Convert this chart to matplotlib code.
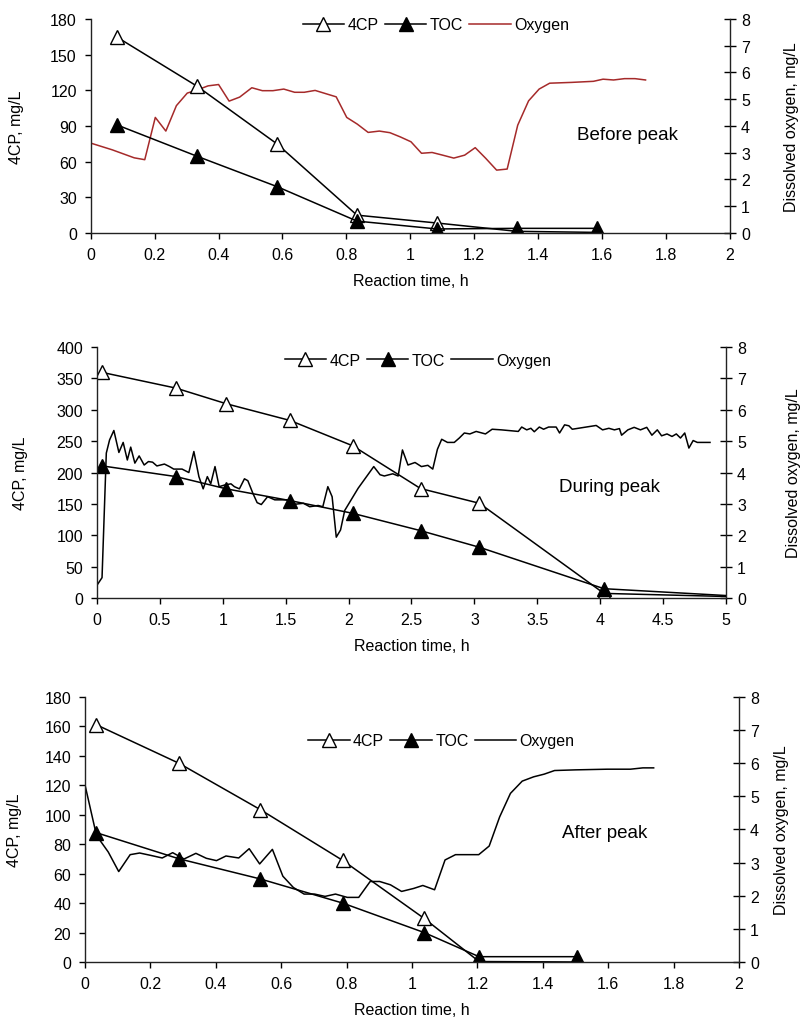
import matplotlib
matplotlib.use("Agg")
import matplotlib.pyplot as plt
from matplotlib.ticker import FormatStrFormatter

plt.rcParams['font.family'] = ['Liberation Sans', 'DejaVu Sans']

# ---- panel 1: before peak
t1 = [0.083, 0.333, 0.583, 0.833, 1.083, 1.333, 1.583]
cp1 = [164.6, 123.4, 74.9, 15.0, 8.4, 1.4, 0.5]
toc1 = [90.8, 64.5, 39.0, 10.0, 3.4, 3.9, 3.9]
t1_o2 = [0, 0.067, 0.136, 0.169, 0.202, 0.235, 0.268, 0.302, 0.334, 0.367, 0.400,
         0.433, 0.466, 0.504, 0.537, 0.570, 0.604, 0.638, 0.668, 0.702, 0.735,
         0.768, 0.801, 0.834, 0.868, 0.903, 0.936, 0.969, 1.002, 1.035, 1.068,
         1.101, 1.136, 1.170, 1.203, 1.236, 1.270, 1.303, 1.336, 1.370, 1.403,
         1.436, 1.505, 1.573, 1.603, 1.636, 1.670, 1.703, 1.736]
o2_1 = [3.36, 3.11, 2.81, 2.74, 4.32, 3.81, 4.76, 5.23, 5.35, 5.50, 5.55,
        4.93, 5.08, 5.43, 5.32, 5.32, 5.38, 5.26, 5.26, 5.33, 5.21,
        5.09, 4.32, 4.07, 3.76, 3.81, 3.75, 3.59, 3.41, 2.98, 3.01,
        2.91, 2.80, 2.91, 3.19, 2.79, 2.35, 2.39, 4.03, 4.94, 5.38,
        5.60, 5.63, 5.67, 5.75, 5.72, 5.77, 5.77, 5.72]

# ---- panel 2: during peak
t2 = [0.04, 0.626, 1.028, 1.534, 2.033, 2.572, 3.04, 4.03, 5.0]
cp2 = [359.6, 334.6, 309.6, 283.0, 242.6, 174.5, 151.0, 7.4, 2.5]
toc2 = [210.6, 193.6, 174.0, 155.3, 135.0, 107.4, 80.9, 14.9, 4.0]
t2_o2 = [0, 0.04, 0.074, 0.10, 0.134, 0.174, 0.208, 0.241, 0.268, 0.301, 0.335,
         0.375, 0.409, 0.442, 0.476, 0.536, 0.576, 0.610, 0.676, 0.730, 0.770,
         0.810, 0.844, 0.877, 0.904, 0.938, 0.971, 1.021, 1.065, 1.092, 1.132,
         1.172, 1.199, 1.239, 1.273, 1.306, 1.356, 1.413, 1.507, 1.574, 1.641,
         1.691, 1.758, 1.795, 1.835, 1.869, 1.902, 1.936, 1.969, 2.076, 2.200,
         2.250, 2.284, 2.351, 2.394, 2.428, 2.472, 2.528, 2.579, 2.630, 2.669,
         2.706, 2.740, 2.786, 2.840, 2.880, 2.920, 2.964, 3.014, 3.088, 3.141,
         3.215, 3.349, 3.376, 3.416, 3.449, 3.476, 3.516, 3.550, 3.590, 3.650,
         3.677, 3.717, 3.751, 3.778, 3.968, 4.019, 4.069, 4.113, 4.153, 4.170,
         4.220, 4.270, 4.320, 4.370, 4.411, 4.454, 4.488, 4.531, 4.571, 4.605,
         4.638, 4.672, 4.705, 4.739, 4.772, 4.873]
o2_2 = [0.41, 0.65, 4.62, 5.04, 5.34, 4.64, 4.96, 4.40, 4.81, 4.30, 4.53,
        4.24, 4.35, 4.33, 4.21, 4.27, 4.19, 4.11, 4.11, 4.00, 4.67,
        3.87, 3.48, 3.87, 3.64, 4.19, 3.55, 3.61, 3.64, 3.55, 3.48,
        3.80, 3.74, 3.34, 3.04, 2.98, 3.23, 3.13, 3.13, 2.99, 3.02,
        2.91, 2.95, 2.91, 3.55, 3.23, 1.94, 2.17, 2.79, 3.50, 4.19,
        3.93, 3.89, 3.96, 3.89, 4.72, 4.24, 4.32, 4.19, 4.23, 4.11,
        4.74, 5.06, 4.96, 4.96, 5.10, 5.26, 5.23, 5.31, 5.23, 5.38,
        5.36, 5.31, 5.45, 5.36, 5.41, 5.30, 5.45, 5.38, 5.45, 5.45,
        5.26, 5.52, 5.49, 5.38, 5.50, 5.36, 5.41, 5.36, 5.40, 5.19,
        5.36, 5.44, 5.36, 5.44, 5.19, 5.36, 5.17, 5.23, 5.15, 5.23,
        5.10, 5.26, 4.78, 5.02, 4.96, 4.96]

# ---- panel 3: after peak
t3 = [0.035, 0.287, 0.536, 0.788, 1.037, 1.205, 1.504]
cp3 = [161.1, 135.0, 103.5, 69.0, 29.6, 0.3, 0.0]
toc3 = [87.8, 70.1, 56.4, 40.0, 20.0, 3.6, 3.6]
t3_o2 = [0, 0.035, 0.071, 0.103, 0.138, 0.167, 0.200, 0.236, 0.268, 0.303, 0.339,
         0.371, 0.402, 0.431, 0.470, 0.502, 0.534, 0.573, 0.605, 0.637, 0.670,
         0.702, 0.734, 0.766, 0.802, 0.837, 0.872, 0.901, 0.934, 0.968, 1.005,
         1.033, 1.069, 1.101, 1.133, 1.204, 1.236, 1.268, 1.301, 1.337, 1.372,
         1.404, 1.436, 1.500, 1.597, 1.668, 1.706, 1.739]
o2_3 = [5.34, 3.82, 3.32, 2.73, 3.24, 3.29, 3.22, 3.14, 3.30, 3.11, 3.28,
        3.13, 3.06, 3.20, 3.14, 3.42, 2.96, 3.40, 2.59, 2.25, 2.05,
        2.05, 1.98, 2.05, 1.95, 1.95, 2.43, 2.43, 2.33, 2.13, 2.22,
        2.31, 2.18, 3.08, 3.24, 3.24, 3.50, 4.38, 5.09, 5.46, 5.59,
        5.67, 5.78, 5.80, 5.82, 5.82, 5.86, 5.86]

panels = [
    dict(rect=[0.113, 0.7706, 0.796, 0.2098], t=t1, cp=cp1, toc=toc1, to=t1_o2, o2=o2_1,
         ocol="#a52a2a", xmax=2, xstep=0.2, ymax=180, ystep=30, label="Before peak",
         lpos=(1.68, 83), leg=(0.54, 0.972), skip_last=False, ylx=(-0.104, 1.085)),
    dict(rect=[0.1208, 0.4127, 0.7833, 0.2461], t=t2, cp=cp2, toc=toc2, to=t2_o2, o2=o2_2,
         ocol="black", xmax=5, xstep=0.5, ymax=400, ystep=50, label="During peak",
         lpos=(4.07, 178), leg=(0.51, 0.947), skip_last=True, ylx=(-0.110, 1.095)),
    dict(rect=[0.1059, 0.0559, 0.8144, 0.2598], t=t3, cp=cp3, toc=toc3, to=t3_o2, o2=o2_3,
         ocol="black", xmax=2, xstep=0.2, ymax=180, ystep=20, label="After peak",
         lpos=(1.59, 88), leg=(0.545, 0.834), skip_last=False, ylx=(-0.096, 1.054)),
]

fig = plt.figure(figsize=(8.03, 10.2), dpi=100)
fs = 11.5

for p in panels:
    ax = fig.add_axes(p["rect"])
    axr = ax.twinx()
    ax.set_zorder(axr.get_zorder() + 1)
    ax.patch.set_visible(False)

    oline, = axr.plot(p["to"], p["o2"], color=p["ocol"], lw=1.1, label="Oxygen")
    mev = list(range(len(p["t"]) - 1)) if p["skip_last"] else None
    l1, = ax.plot(p["t"], p["cp"], color="black", lw=1.1, marker="^", ms=10,
                  mfc="white", mec="black", mew=1.0, markevery=mev, label="4CP")
    l2, = ax.plot(p["t"], p["toc"], color="black", lw=1.1, marker="^", ms=10,
                  mfc="black", mec="black", markevery=mev, label="TOC")

    n = int(round(p["xmax"] / p["xstep"]))
    ax.set_xlim(0, p["xmax"])
    ax.set_xticks([i * p["xstep"] for i in range(n + 1)])
    ax.xaxis.set_major_formatter(FormatStrFormatter("%g"))
    ax.set_ylim(0, p["ymax"])
    ax.set_yticks(list(range(0, p["ymax"] + 1, p["ystep"])))
    axr.set_ylim(0, 8)
    axr.set_yticks(range(0, 9))

    for a in (ax, axr):
        a.spines["top"].set_visible(False)
        for s in a.spines.values():
            s.set_linewidth(1.0)
            s.set_color("#222222")
    ax.spines["right"].set_visible(False)
    axr.spines["left"].set_visible(False)
    axr.spines["bottom"].set_visible(False)

    ax.tick_params(axis="both", labelsize=fs, direction="out", length=4, width=1.0, pad=6)
    axr.tick_params(axis="y", labelsize=fs, direction="inout", length=8, width=1.0, pad=4)

    ax.set_xlabel("Reaction time, h", fontsize=fs, labelpad=8)
    ax.set_ylabel("4CP, mg/L", fontsize=fs)
    axr.set_ylabel("Dissolved oxygen, mg/L", fontsize=fs)
    ax.yaxis.set_label_coords(p["ylx"][0], 0.5)
    axr.yaxis.set_label_coords(p["ylx"][1], 0.5)

    ax.text(p["lpos"][0], p["lpos"][1], p["label"], fontsize=13.5,
            ha="center", va="center")

    ax.legend([l1, l2, oline], ["4CP", "TOC", "Oxygen"], loc="center",
              bbox_to_anchor=p["leg"], ncol=3, frameon=False, fontsize=fs,
              handlelength=2.6, handletextpad=0.2, columnspacing=0.4,
              borderpad=0)

fig.savefig("out.png", dpi=100)
